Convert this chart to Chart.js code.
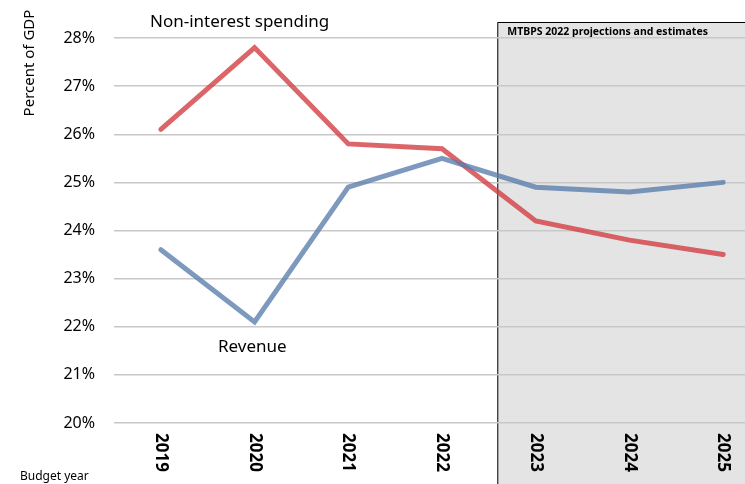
<!DOCTYPE html>
<html>
<head>
<meta charset="utf-8">
<script src="https://cdn.jsdelivr.net/npm/chart.js@4"></script>
<style>
  html, body { margin: 0; padding: 0; overflow: hidden; background: #fff; }
  #wrap { width: 770px; height: 484px; }
</style>
</head>
<body>
<div id="wrap"><canvas id="gdpChart" width="770" height="484"></canvas></div>
<script>
// budget years and ratios
const years = ['2019', '2020', '2021', '2022', '2023', '2024', '2025'];
const spending = [26.1, 27.8, 25.8, 25.7, 24.2, 23.8, 23.5];
const revenue = [23.6, 22.1, 24.9, 25.5, 24.9, 24.8, 25.0];
const yMin = 20;
const yMax = 28;
const projectionStart = 3.59; // category position where the MTBPS box begins

const FONT = '"Noto Sans", "Open Sans", sans-serif';

// grey projection box, drawn under the grid
const projectionBox = {
    id: 'projectionBox',
    beforeDraw(chart) {
        const c = chart.ctx;
        const x = chart.scales.x.getPixelForValue(projectionStart);
        const top = chart.chartArea.top - 16;
        c.save();
        c.fillStyle = '#e4e4e4';
        c.fillRect(x, top, chart.width - x + 5, chart.height - top + 5);
        c.strokeStyle = '#000';
        c.lineWidth = 1;
        c.beginPath();
        c.moveTo(x + 0.5, chart.height + 5);
        c.lineTo(x + 0.5, top + 0.5);
        c.lineTo(chart.width + 5, top + 0.5);
        c.stroke();
        c.fillStyle = '#000';
        c.font = 'bold 10.5px ' + FONT;
        c.textBaseline = 'top';
        c.fillText('MTBPS 2022 projections and estimates', x + 10, top + 5);
        c.restore();
    }
};

// rotated year labels and free text labels
const labelsPlugin = {
    id: 'labelsPlugin',
    afterDraw(chart) {
        const c = chart.ctx;
        const xs = chart.scales.x;
        c.save();
        c.fillStyle = '#000';
        c.font = 'bold 17px ' + FONT;
        c.textAlign = 'left';
        c.textBaseline = 'middle';
        years.forEach((yr, i) => {
            const px = xs.getPixelForValue(i);
            c.save();
            c.translate(px, chart.chartArea.bottom + 10);
            c.rotate(Math.PI / 2);
            c.fillText(yr, 0, 0);
            c.restore();
        });

        c.font = '17px ' + FONT;
        c.textBaseline = 'middle';
        c.fillText('Non-interest spending', 150, 22);
        c.fillText('Revenue', 218, 347);

        c.font = '12px ' + FONT;
        c.textBaseline = 'alphabetic';
        c.fillText('Budget year', 20, 480);

        c.save();
        c.translate(30, 63);
        c.rotate(-Math.PI / 2);
        c.font = '15px ' + FONT;
        c.textAlign = 'center';
        c.textBaseline = 'middle';
        c.fillText('Percent of GDP', 0, 0);
        c.restore();
        c.restore();
    }
};

new Chart(document.getElementById('gdpChart'), {
    type: 'line',
    data: {
        labels: years,
        datasets: [
            {
                label: 'Revenue',
                data: revenue,
                borderColor: 'rgba(88, 124, 170, 0.78)',
                borderWidth: 5,
                borderCapStyle: 'round',
                pointRadius: 0,
                tension: 0
            },
            {
                label: 'Non-interest spending',
                data: spending,
                borderColor: 'rgba(210, 62, 66, 0.8)',
                borderWidth: 5,
                borderCapStyle: 'round',
                pointRadius: 0,
                tension: 0
            }
        ]
    },
    options: {
        responsive: false,
        animation: false,
        layout: { padding: { top: 38, right: 0, bottom: 61, left: 0 } },
        plugins: {
            legend: { display: false },
            tooltip: { enabled: false }
        },
        scales: {
            x: {
                offset: true,
                grid: { display: false, drawTicks: false },
                border: { display: false },
                ticks: { display: false }
            },
            y: {
                min: yMin,
                max: yMax,
                afterFit(scale) { scale.width = 114; },
                grid: { color: '#c8c8c8', lineWidth: 1.5, drawTicks: false },
                border: { display: false },
                ticks: {
                    stepSize: 1,
                    padding: 19,
                    color: '#000',
                    font: { family: FONT, size: 16 },
                    callback: v => v + '%'
                }
            }
        }
    },
    plugins: [projectionBox, labelsPlugin]
});
</script>
</body>
</html>
